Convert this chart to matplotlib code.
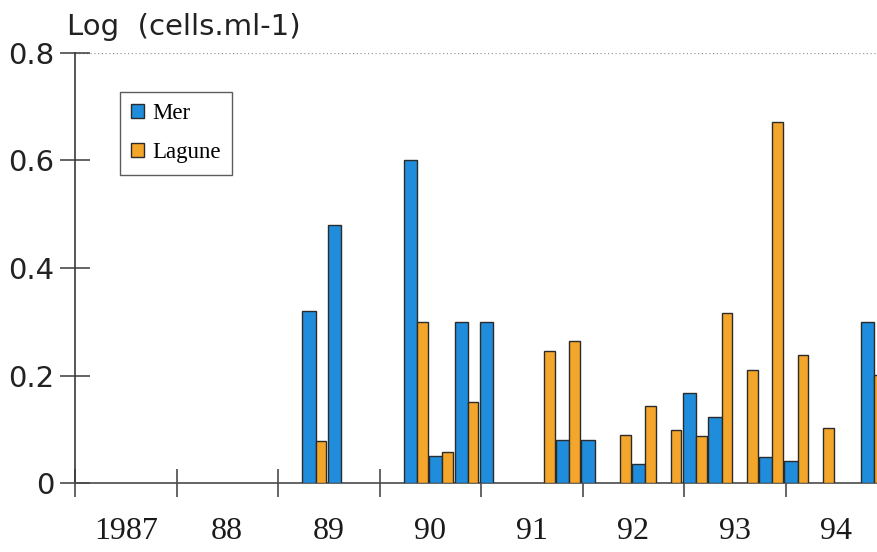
import numpy as np
import matplotlib
matplotlib.use("Agg")
import matplotlib.pyplot as plt
from matplotlib.ticker import FixedLocator, NullFormatter

nan = np.nan

# Year categories shown on the x axis
years = ["1987", "88", "89", "90", "91", "92", "93", "94"]

# Quarterly log abundances (cells.ml-1), four samples per year, NaN = no sample
mer = [nan, nan, nan, nan,
       nan, nan, nan, nan,
       nan, 0.32, 0.48, nan,
       nan, 0.60, 0.05, 0.30,
       0.30, nan, nan, 0.08,
       0.08, nan, 0.036, nan,
       0.167, 0.123, nan, 0.049,
       0.042, nan, nan, 0.30]

lagune = [nan, nan, nan, nan,
          nan, nan, nan, nan,
          nan, 0.078, nan, nan,
          nan, 0.30, 0.058, 0.152,
          nan, nan, 0.245, 0.265,
          nan, 0.089, 0.143, 0.099,
          0.087, 0.317, 0.21, 0.672,
          0.238, 0.102, nan, 0.202]

y_ticks = [0, 0.2, 0.4, 0.6, 0.8]
y_ticklabels = ["0", "0.2", "0.4", "0.6", "0.8"]

blue = "#1f8ddb"
orange = "#f4a62a"
edge = "#2b2b2b"

W, H = 877, 552
fig = plt.figure(figsize=(W / 100, H / 100), dpi=100)
left_px, right_px, bottom_px, top_px = 75, 877, 483.3, 52.9
ax = fig.add_axes([left_px / W, 1 - bottom_px / H,
                   (right_px - left_px) / W, (bottom_px - top_px) / H])

year_px = 101.5
ax.set_xlim(0, (right_px - left_px) / year_px)
ax.set_ylim(0, 0.8)

q = np.arange(len(mer)) * 0.25
ax.bar(q - 0.01, mer, width=0.13, align="edge", color=blue,
       edgecolor=edge, linewidth=1.0, label="Mer", zorder=3)
ax.bar(q + 0.12, lagune, width=0.105, align="edge", color=orange,
       edgecolor=edge, linewidth=1.0, label="Lagune", zorder=3)

# Spines
for s in ("top", "right"):
    ax.spines[s].set_visible(False)
ax.spines["left"].set_color("#3a3a3a")
ax.spines["left"].set_linewidth(1.2)
ax.spines["bottom"].set_color("#4a4a4a")
ax.spines["bottom"].set_linewidth(1.2)
ax.axhline(0.8, color="#9a9a9a", linestyle=(0, (1, 2)), linewidth=0.9,
           zorder=1)

# Y axis
ax.set_yticks(y_ticks)
ax.set_yticklabels(y_ticklabels, fontsize=21, family="DejaVu Sans",
                   color="#222222")
ax.tick_params(axis="y", direction="inout", length=22, width=1.1,
               color="#3a3a3a", pad=4)

# X axis: year boundaries as major ticks, labels centred in each year
n_years = len(years)
ax.xaxis.set_major_locator(FixedLocator(np.arange(n_years)))
ax.xaxis.set_major_formatter(NullFormatter())
ax.set_xticks(np.arange(n_years) + 0.5, minor=True)
ax.set_xticklabels(years, minor=True, fontsize=23,
                   family="Liberation Serif", color="#1a1a1a")
ax.tick_params(axis="x", which="major", direction="inout", length=20,
               width=1.1, color="#3a3a3a")
ax.tick_params(axis="x", which="minor", length=0, pad=24)

fig.text(67 / W, 1 - 35 / H, "Log  (cells.ml-1)", fontsize=21,
         family="DejaVu Sans", color="#222222", va="baseline", ha="left")

leg = ax.legend(loc="upper left", bbox_to_anchor=(0.056, 0.910),
                borderaxespad=0, frameon=True, fancybox=False,
                prop={"family": "Liberation Serif", "size": 16.5},
                handlelength=0.57, handleheight=0.57, handletextpad=0.35,
                labelspacing=0.8, borderpad=0.5)
leg.get_frame().set_edgecolor("#333333")
leg.get_frame().set_linewidth(1.0)

fig.savefig("out.png", dpi=100)
